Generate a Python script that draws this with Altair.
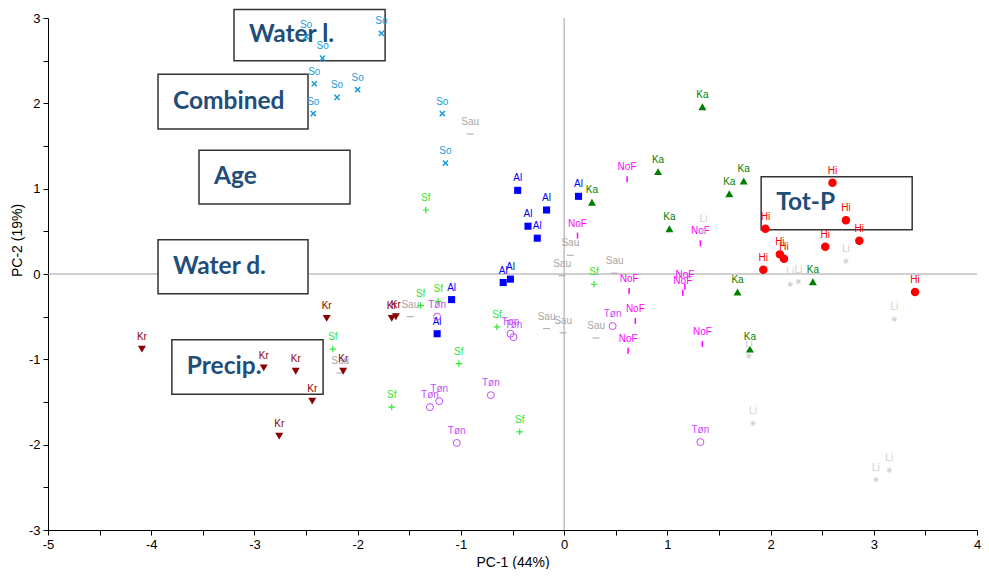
import altair as alt
import pandas as pd

# ---------------- data ----------------
so_x = [-1.77, -2.50, -2.34, -2.42, -2.20, -2.00, -2.43, -1.18, -1.15]
so_y = [2.82, 2.78, 2.53, 2.23, 2.07, 2.16, 1.88, 1.88, 1.30]

sau_x = [-0.91, 0.06, -0.02, 0.49, -1.49, -2.17, -0.17, -0.01, 0.31]
sau_y = [1.64, 0.22, -0.02, 0.01, -0.50, -1.16, -0.64, -0.69, -0.75]

al_x = [-0.45, 0.14, -0.17, -0.35, -0.26, -0.52, -0.59, -1.09, -1.23]
al_y = [0.98, 0.91, 0.75, 0.56, 0.42, -0.06, -0.10, -0.30, -0.70]

sf_x = [-1.34, 0.29, -1.22, -1.39, -0.65, -1.02, -1.67, -0.43, -2.24]
sf_y = [0.75, -0.12, -0.32, -0.37, -0.62, -1.05, -1.56, -1.85, -0.88]

kr_x = [-2.30, -4.09, -2.91, -2.60, -2.14, -2.44, -2.76, -1.67, -1.63]
kr_y = [-0.52, -0.88, -1.10, -1.14, -1.14, -1.49, -1.90, -0.52, -0.50]

ton_x = [-1.23, -0.52, -0.49, 0.47, -0.71, -1.21, -1.30, -1.04, 1.32]
ton_y = [-0.50, -0.70, -0.74, -0.61, -1.42, -1.49, -1.56, -1.98, -1.97]

nof_x = [0.61, 0.13, 1.32, 0.63, 1.17, 1.15, 0.69, 0.62, 1.34]
nof_y = [1.11, 0.45, 0.36, -0.20, -0.15, -0.22, -0.55, -0.90, -0.82]

ka_x = [1.34, 0.91, 1.74, 1.60, 0.27, 1.02, 1.68, 2.41, 1.80]
ka_y = [1.96, 1.20, 1.09, 0.94, 0.84, 0.53, -0.21, -0.09, -0.88]

hi_x = [2.60, 2.73, 1.95, 2.86, 2.53, 2.09, 2.13, 1.93, 3.40]
hi_y = [1.07, 0.63, 0.53, 0.39, 0.32, 0.23, 0.18, 0.05, -0.21]

li_x = [1.35, 2.73, 2.19, 2.27, 3.20, 1.79, 1.83, 3.15, 3.02]
li_y = [0.50, 0.15, -0.12, -0.09, -0.53, -0.96, -1.75, -2.30, -2.41]

box_labels = ["Water l.", "Combined", "Age", "Water d.", "Precip.", "Tot-P"]
box_x1 = [-3.198, -3.934, -3.537, -3.934, -3.800, 1.909]
box_x2 = [-1.734, -2.481, -2.074, -2.481, -2.335, 3.372]
box_y1 = [3.10, 2.34, 1.45, 0.40, -0.77, 1.14]
box_y2 = [2.50, 1.70, 0.82, -0.23, -1.41, 0.52]

x_ticks = [v / 2 for v in range(-10, 9)]
y_ticks = [v / 2 for v in range(-6, 7)]

# ---------------- styling ----------------
FONT = "Liberation Sans"
XPATH = "M-1,-1L1,1M-1,1L1,-1"
DASH = "M-1,0L1,0"
PLUS = "M-1,0L1,0M0,-1L0,1"
VTICK = "M0,-1L0,1"
STAR = "M-1,0L1,0M0,-1L0,1M-0.7,-0.7L0.7,0.7M-0.7,0.7L0.7,-0.7"

groups = [
    ("So", so_x, so_y, "#1a9cd8", XPATH, False, 26, 1.5),
    ("Sau", sau_x, sau_y, "#a6a6a6", DASH, False, 49, 1.0),
    ("Al", al_x, al_y, "#0000ff", "square", True, 50, 1.0),
    ("Sf", sf_x, sf_y, "#2ee82e", PLUS, False, 42, 1.2),
    ("Kr", kr_x, kr_y, "#8b0000", "triangle-down", True, 64, 1.0),
    ("Tøn", ton_x, ton_y, "#c44cf8", "circle", False, 49, 1.0),
    ("NoF", nof_x, nof_y, "#ff00ff", VTICK, False, 36, 1.5),
    ("Ka", ka_x, ka_y, "#008000", "triangle-up", True, 64, 1.0),
    ("Hi", hi_x, hi_y, "#ff0000", "circle", True, 72, 1.0),
    ("Li", li_x, li_y, "#cfcfcf", STAR, False, 30, 1.0),
]

xscale = alt.Scale(domain=[-5, 4], nice=False, zero=False)
yscale = alt.Scale(domain=[-3, 3], nice=False, zero=False)

xaxis = alt.Axis(values=x_ticks, labelExpr="datum.value % 1 == 0 ? '' + datum.value : ''",
                 grid=False, tickSize=5, tickColor="black", domainColor="black",
                 labelColor="black", labelFont=FONT, labelFontSize=13, labelPadding=3,
                 titleFont=FONT, titleFontSize=14, titleFontWeight="normal", titleColor="black",
                 titlePadding=4, labelFlush=False, labelOverlap=False)
yaxis = alt.Axis(values=y_ticks, labelExpr="datum.value % 1 == 0 ? '' + datum.value : ''",
                 grid=False, tickSize=5, tickColor="black", domainColor="black",
                 labelColor="black", labelFont=FONT, labelFontSize=13, labelPadding=3,
                 titleFont=FONT, titleFontSize=14, titleFontWeight="normal", titleColor="black",
                 titleX=-24, titleY=222, labelFlush=False, labelOverlap=False)


def X(field="x"):
    return alt.X(f"{field}:Q", scale=xscale, axis=xaxis, title="PC-1 (44%)")


def Y(field="y"):
    return alt.Y(f"{field}:Q", scale=yscale, axis=yaxis, title="PC-2 (19%)")


layers = []

# zero lines
vline = pd.DataFrame({"x": [0], "y": [-3], "y2": [3]})
hline = pd.DataFrame({"x": [-5], "x2": [4], "y": [0]})
layers.append(alt.Chart(vline).mark_rule(color="#a0a0a0", strokeWidth=1).encode(
    x=X(), y=Y(), y2="y2:Q"))
layers.append(alt.Chart(hline).mark_rule(color="#a0a0a0", strokeWidth=1).encode(
    x=X(), x2="x2:Q", y=Y()))

# annotation boxes
boxes = pd.DataFrame({"label": box_labels, "x": box_x1, "x2": box_x2,
                      "y": box_y1, "y2": box_y2})
boxes["ym"] = (boxes["y"] + boxes["y2"]) / 2
layers.append(alt.Chart(boxes).mark_rect(fill="white", stroke="#333333", strokeWidth=1.5).encode(
    x=X(), x2="x2:Q", y=Y(), y2="y2:Q"))
layers.append(alt.Chart(boxes).mark_text(
    align="left", baseline="middle", dx=15, font="Lato", fontSize=24.5, fontWeight="bold",
    color="#1f4e79").encode(x=X(), y=Y("ym"), text="label:N"))

# points and labels
for name, xs, ys, col, shape, filled, size, sw in groups:
    df = pd.DataFrame({"x": xs, "y": ys, "g": [name] * len(xs)})
    if filled:
        pm = alt.Chart(df).mark_point(shape=shape, filled=True, size=size, color=col, opacity=1)
    else:
        pm = alt.Chart(df).mark_point(shape=shape, filled=False, size=size, color=col,
                                      strokeWidth=sw, opacity=1)
    layers.append(pm.encode(x=X(), y=Y()))
    layers.append(alt.Chart(df).mark_text(
        font=FONT, fontSize=10, color=col, dy=-12, baseline="middle").encode(
        x=X(), y=Y(), text="g:N"))

chart = alt.layer(*layers).properties(
    width=929, height=512,
    autosize=alt.AutoSizeParams(type="none"),
    padding={"left": 40, "top": 10, "right": 4, "bottom": 39},
    background="white",
).configure_view(stroke=None)

chart.save("out.html", embed_options={"renderer": "svg", "actions": False})
